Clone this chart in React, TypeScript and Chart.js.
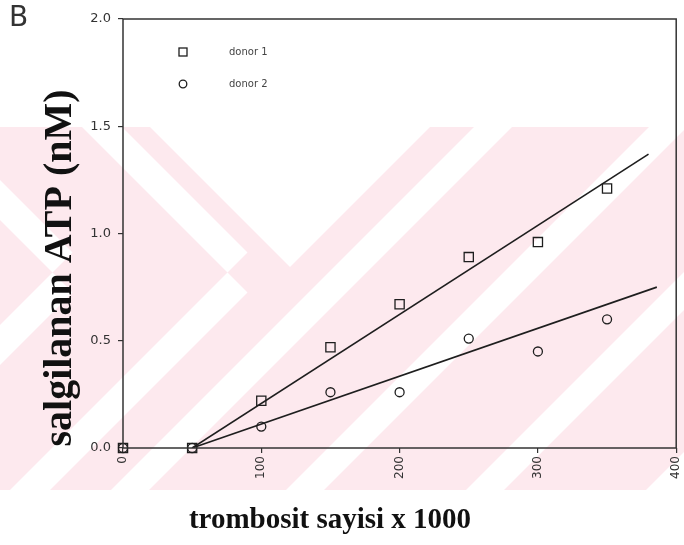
import React, { useEffect, useRef } from "react";
import { Chart, registerables } from "chart.js";

Chart.register(...registerables);

// ---- data ----
const plateletCounts = [0, 50, 100, 150, 200, 250, 300, 350];
const donor1Values = [0, 0, 0.22, 0.47, 0.67, 0.89, 0.96, 1.21];
const donor2Values = [0, 0, 0.1, 0.26, 0.26, 0.51, 0.45, 0.6];
const fit1X = [50, 380];
const fit1Y = [0, 1.37];
const fit2X = [50, 386];
const fit2Y = [0, 0.75];
const seriesLabels = ["donor 1", "donor 2"];
const xTickValues = [0, 100, 200, 300, 400];
const yTickValues = [0, 0.5, 1.0, 1.5, 2.0];
const xTitle = "trombosit sayisi x 1000";
const yTitle = "salgilanan ATP (nM)";
const panelLetter = "B";

const INK = "#1e1e1e";

// background watermark (decorative scan artefact)
const bandTop = 127;
const bandBottom = 490;
const slashStripes = [620, 795, 975, 1155];
const stripeWidth = 38;

const watermarkPlugin = {
  id: "watermark",
  beforeDraw(chart: any) {
    const ctx = chart.ctx;
    const W = chart.width;
    const top = bandTop;
    const bottom = bandBottom;
    ctx.save();
    ctx.beginPath();
    ctx.rect(0, top, W, bottom - top);
    ctx.clip();
    ctx.fillStyle = "#fde9ee";
    ctx.fillRect(0, top, W, bottom - top);
    ctx.fillStyle = "#ffffff";
    const poly = (pts: number[][]) => {
      ctx.beginPath();
      pts.forEach((p, i) => (i ? ctx.lineTo(p[0], p[1]) : ctx.moveTo(p[0], p[1])));
      ctx.closePath();
      ctx.fill();
    };
    slashStripes.forEach((c) => {
      const a = c - stripeWidth / 2;
      const b = c + stripeWidth / 2;
      poly([
        [a - top, top],
        [b - top, top],
        [b - bottom, bottom],
        [a - bottom, bottom],
      ]);
    });
    const chevron = (d0: number, d1: number, s0: number, s1: number) => {
      const ox = (d0 + s1) / 2, oy = (s1 - d0) / 2;
      const ix = (d1 + s0) / 2, iy = (s0 - d1) / 2;
      poly([
        [d0 + top, top],
        [d1 + top, top],
        [ix, iy],
        [s0 - bottom, bottom],
        [s1 - bottom, bottom],
        [ox, oy],
      ]);
    };
    chevron(-45, -5, 500, 540);
    chevron(-220, -180, 325, 365);
    poly([
      [150, top],
      [430, top],
      [290, 267],
    ]);
    ctx.restore();
  },
};

const textPlugin = {
  id: "texts",
  afterDraw(chart: any) {
    const ctx = chart.ctx;
    const a = chart.chartArea;
    const xs = chart.scales.x;
    ctx.save();
    // x tick labels (rotated)
    ctx.fillStyle = "#333";
    ctx.font = "12px 'DejaVu Sans'";
    ctx.textAlign = "right";
    ctx.textBaseline = "middle";
    xTickValues.forEach((v) => {
      ctx.save();
      ctx.translate(xs.getPixelForValue(v), a.bottom + 8);
      ctx.rotate(-Math.PI / 2);
      ctx.fillText(String(v), 0, 0);
      ctx.restore();
    });
    // titles
    ctx.fillStyle = "#111";
    ctx.textAlign = "center";
    ctx.font = "bold 29px 'Liberation Serif'";
    ctx.fillText(xTitle, 330, 521);
    ctx.save();
    ctx.translate(61, 268);
    ctx.rotate(-Math.PI / 2);
    ctx.font = "bold 40px 'Liberation Serif'";
    ctx.fillText(yTitle, 0, 0);
    ctx.restore();
    ctx.fillStyle = "#333";
    ctx.textAlign = "left";
    ctx.font = "28px 'DejaVu Sans'";
    ctx.fillText(panelLetter, 9, 19);
    // frame
    ctx.strokeStyle = "#333";
    ctx.lineWidth = 1.5;
    ctx.strokeRect(a.left, a.top, a.right - a.left, a.bottom - a.top);
    // legend
    const ds = chart.data.datasets;
    const legendX = 183;
    const rows = [52, 84];
    ctx.font = "10px 'DejaVu Sans'";
    ctx.fillStyle = "#444";
    for (let i = 0; i < 2; i++) {
      const d = ds[i];
      ctx.strokeStyle = INK;
      ctx.lineWidth = 1.3;
      if (d.pointStyle === "rect") {
        ctx.strokeRect(legendX - 4, rows[i] - 4, 8, 8);
      } else {
        ctx.beginPath();
        ctx.arc(legendX, rows[i], 3.8, 0, Math.PI * 2);
        ctx.stroke();
      }
      ctx.fillText(d.label, 229, rows[i]);
    }
    ctx.restore();
  },
};

export default function App() {
  const ref = useRef<HTMLCanvasElement | null>(null);
  useEffect(() => {
    if (!ref.current) return;
    const chart = new Chart(ref.current, {
      type: "scatter",
      data: {
        datasets: [
          {
            label: seriesLabels[0],
            data: plateletCounts.map((x, i) => ({ x, y: donor1Values[i] })),
            pointStyle: "rect",
            pointRadius: 6.5,
            pointBorderWidth: 1.3,
            borderColor: INK,
            backgroundColor: "rgba(0,0,0,0)",
            showLine: false,
            clip: false,
          },
          {
            label: seriesLabels[1],
            data: plateletCounts.map((x, i) => ({ x, y: donor2Values[i] })),
            pointStyle: "circle",
            pointRadius: 4.5,
            pointBorderWidth: 1.3,
            borderColor: INK,
            backgroundColor: "rgba(0,0,0,0)",
            showLine: false,
            clip: false,
          },
          {
            label: "fit 1",
            data: fit1X.map((x, i) => ({ x, y: fit1Y[i] })),
            showLine: true,
            pointRadius: 0,
            borderColor: INK,
            borderWidth: 1.6,
          },
          {
            label: "fit 2",
            data: fit2X.map((x, i) => ({ x, y: fit2Y[i] })),
            showLine: true,
            pointRadius: 0,
            borderColor: INK,
            borderWidth: 1.6,
          },
        ],
      },
      options: {
        animation: false,
        responsive: false,
        layout: { padding: { top: 19, right: 5, left: 0, bottom: 0 } },
        plugins: { legend: { display: false }, tooltip: { enabled: false } },
        scales: {
          x: {
            type: "linear",
            min: 0,
            max: 400,
            afterFit: (s: any) => {
              s.height = 97;
            },
            afterBuildTicks: (s: any) => {
              s.ticks = xTickValues.map((v) => ({ value: v }));
            },
            border: { display: false },
            grid: {
              drawOnChartArea: false,
              tickLength: 5,
              color: "#333",
              lineWidth: 1.2,
            },
            ticks: { display: false },
          },
          y: {
            type: "linear",
            min: 0,
            max: 2,
            afterFit: (s: any) => {
              s.width = 123;
            },
            afterBuildTicks: (s: any) => {
              s.ticks = yTickValues.map((v) => ({ value: v }));
            },
            border: { display: false },
            grid: {
              drawOnChartArea: false,
              tickLength: 5,
              color: "#333",
              lineWidth: 1.2,
            },
            ticks: {
              padding: 7,
              color: "#333",
              font: { family: "'DejaVu Sans'", size: 13 },
              callback: (v: any) => Number(v).toFixed(1),
            },
          },
        },
      },
      plugins: [watermarkPlugin, textPlugin],
    });
    return () => chart.destroy();
  }, []);
  return (
    <div
      style={{
        position: "fixed",
        left: 0,
        top: 0,
        width: 684,
        height: 545,
        overflow: "hidden",
        background: "#fff",
      }}
    >
      <canvas ref={ref} width={684} height={545} style={{ display: "block" }} />
    </div>
  );
}
